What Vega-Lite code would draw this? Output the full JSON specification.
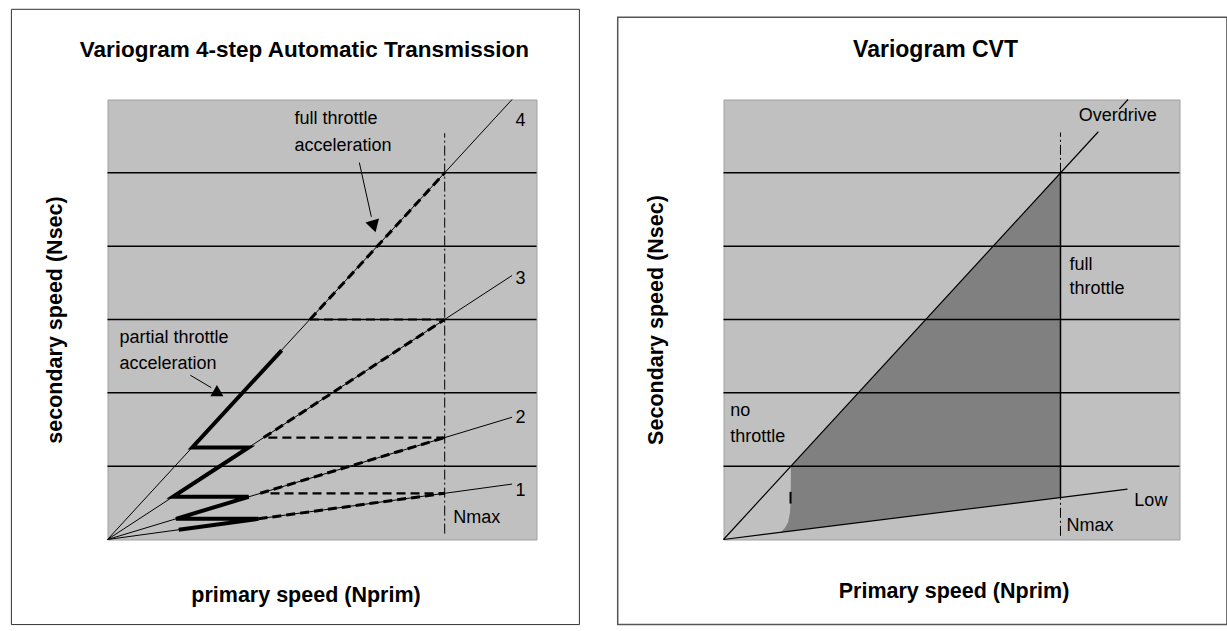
{
  "$schema": "https://vega.github.io/schema/vega-lite/v6.json",
  "padding": {"left": 9.5, "top": 7.5, "right": 0, "bottom": 0},
  "background": "white",
  "bounds": "flush",
  "spacing": 187,
  "config": {
    "view": {"stroke": null},
    "font": "Liberation Sans",
    "axis": {"titleFont": "Liberation Sans", "titleColor": "#000", "titleFontWeight": "bold", "titleFontSize": 21.5, "labels": false, "ticks": false, "domain": false, "grid": false}
  },
  "datasets": {
    "grid": [
      {"x": 0, "x2": 100, "y": 1, "y2": 1},
      {"x": 0, "x2": 100, "y": 2, "y2": 2},
      {"x": 0, "x2": 100, "y": 3, "y2": 3},
      {"x": 0, "x2": 100, "y": 4, "y2": 4},
      {"x": 0, "x2": 100, "y": 5, "y2": 5}
    ],
    "L_box": [{"x": -22.4, "x2": 110.0, "y": -1.16, "y2": 7.23}],
    "L_title": [{"x": 45.9, "y": 6.68, "text": "Variogram 4-step Automatic Transmission"}],
    "L_gears": [
      {"x": 0, "y": 0, "x2": 94.3, "y2": 6},
      {"x": 0, "y": 0, "x2": 94.3, "y2": 3.6},
      {"x": 0, "y": 0, "x2": 94.3, "y2": 1.667},
      {"x": 0, "y": 0, "x2": 94.3, "y2": 0.756}
    ],
    "L_full": [
      {"x": 47.2, "y": 3, "x2": 78.6, "y2": 5},
      {"x": 36.4, "y": 1.39, "x2": 78.6, "y2": 3},
      {"x": 35.6, "y": 0.63, "x2": 78.6, "y2": 1.39},
      {"x": 35.2, "y": 0.282, "x2": 78.6, "y2": 0.63}
    ],
    "L_shift": [
      {"x": 47.2, "y": 3, "x2": 78.6, "y2": 3},
      {"x": 37.5, "y": 1.39, "x2": 78.6, "y2": 1.39},
      {"x": 38, "y": 0.63, "x2": 78.6, "y2": 0.63}
    ],
    "L_zig": [
      {"o": 1, "x": 16.6, "y": 0.133},
      {"o": 2, "x": 35.2, "y": 0.282},
      {"o": 3, "x": 15.95, "y": 0.282},
      {"o": 4, "x": 32.9, "y": 0.582},
      {"o": 5, "x": 15.25, "y": 0.582},
      {"o": 6, "x": 32.9, "y": 1.256},
      {"o": 7, "x": 19.75, "y": 1.256},
      {"o": 8, "x": 40.6, "y": 2.58}
    ],
    "L_nmax": [{"x": 78.6, "y": 0.08, "x2": 78.6, "y2": 5.54}],
    "L_arrows": [
      {"x": 58.7, "y": 5.14, "x2": 61.5, "y2": 4.4},
      {"x": 19.3, "y": 2.24, "x2": 24.2, "y2": 2.07}
    ],
    "L_head_down": [{"x": 62.1, "y": 4.27}],
    "L_head_up": [{"x": 25.5, "y": 2.03}],
    "L_text": [
      {"x": 43.6, "y": 5.73, "text": "full throttle"},
      {"x": 43.6, "y": 5.37, "text": "acceleration"},
      {"x": 2.8, "y": 2.75, "text": "partial throttle"},
      {"x": 2.8, "y": 2.4, "text": "acceleration"},
      {"x": 95.1, "y": 5.71, "text": "4"},
      {"x": 95.1, "y": 3.55, "text": "3"},
      {"x": 95.1, "y": 1.66, "text": "2"},
      {"x": 95.1, "y": 0.655, "text": "1"},
      {"x": 80.6, "y": 0.29, "text": "Nmax"}
    ],
    "R_box": [{"x": -23.2, "x2": 110.4, "y": -1.16, "y2": 7.12}],
    "R_title": [{"x": 46.5, "y": 6.68, "text": "Variogram CVT"}],
    "R_area": [
      {"x": 12.5, "y": 0.097, "y2": 0.0969},
      {"x": 13.5, "y": 0.16, "y2": 0.1047},
      {"x": 14.2, "y": 0.24, "y2": 0.1101},
      {"x": 14.6, "y": 0.38, "y2": 0.1132},
      {"x": 14.75, "y": 0.6, "y2": 0.1144},
      {"x": 14.78, "y": 1, "y2": 0.1146},
      {"x": 73.9, "y": 5, "y2": 0.573}
    ],
    "R_lines": [
      {"x": 0, "y": 0, "x2": 82.2, "y2": 5.56},
      {"x": 86.8, "y": 5.87, "x2": 88.7, "y2": 6},
      {"x": 0, "y": 0, "x2": 88.6, "y2": 0.687}
    ],
    "R_nmax_solid": [{"x": 73.9, "y": 0.573, "x2": 73.9, "y2": 5}],
    "R_nmax_dd": [
      {"x": 73.9, "y": 5, "x2": 73.9, "y2": 5.55},
      {"x": 73.9, "y": 0.05, "x2": 73.9, "y2": 0.573}
    ],
    "R_tick": [{"x": 14.7, "y": 0.49, "x2": 14.7, "y2": 0.65}],
    "R_text": [
      {"x": 77.9, "y": 5.77, "text": "Overdrive"},
      {"x": 75.9, "y": 3.75, "text": "full"},
      {"x": 75.9, "y": 3.41, "text": "throttle"},
      {"x": 1.5, "y": 1.75, "text": "no"},
      {"x": 1.5, "y": 1.4, "text": "throttle"},
      {"x": 90.1, "y": 0.52, "text": "Low"},
      {"x": 75.2, "y": 0.18, "text": "Nmax"}
    ]
  },
  "hconcat": [
    {
      "width": 429,
      "height": 440,
      "view": {"fill": "#c0c0c0", "stroke": "#a0a0a0", "strokeWidth": 1},
      "encoding": {
        "x": {"field": "x", "type": "quantitative", "scale": {"domain": [0, 100], "nice": false, "zero": false},
              "axis": {"title": "primary speed (Nprim)", "titleX": 198, "titleY": 56, "titleAlign": "center", "titleBaseline": "middle"}},
        "y": {"field": "y", "type": "quantitative", "scale": {"domain": [0, 6], "nice": false, "zero": false},
              "axis": {"title": "secondary speed (Nsec)", "titleX": -52.4, "titleY": 220, "titleAngle": 270, "titleAlign": "center", "titleBaseline": "middle"}}
      },
      "layer": [
        {"data": {"name": "L_box"}, "mark": {"type": "rect", "filled": false, "stroke": "#333", "strokeWidth": 1}, "encoding": {"x2": {"field": "x2"}, "y2": {"field": "y2"}}},
        {"data": {"name": "L_title"}, "mark": {"type": "text", "align": "center", "baseline": "middle", "fontSize": 22.5, "fontWeight": "bold", "color": "#000"}, "encoding": {"text": {"field": "text"}}},
        {"data": {"name": "grid"}, "mark": {"type": "rule", "color": "#000", "strokeWidth": 1.5}, "encoding": {"x2": {"field": "x2"}, "y2": {"field": "y2"}}},
        {"data": {"name": "L_gears"}, "mark": {"type": "rule", "color": "#000", "strokeWidth": 1}, "encoding": {"x2": {"field": "x2"}, "y2": {"field": "y2"}}},
        {"data": {"name": "L_full"}, "mark": {"type": "rule", "color": "#000", "strokeWidth": 3, "strokeDash": [9, 5]}, "encoding": {"x2": {"field": "x2"}, "y2": {"field": "y2"}}},
        {"data": {"name": "L_shift"}, "mark": {"type": "rule", "color": "#000", "strokeWidth": 2.2, "strokeDash": [9, 5]}, "encoding": {"x2": {"field": "x2"}, "y2": {"field": "y2"}}},
        {"data": {"name": "L_zig"}, "mark": {"type": "line", "color": "#000", "strokeWidth": 4, "strokeJoin": "miter"}, "encoding": {"order": {"field": "o", "type": "quantitative"}}},
        {"data": {"name": "L_nmax"}, "mark": {"type": "rule", "color": "#000", "strokeWidth": 1, "strokeDash": [10, 3, 2, 3]}, "encoding": {"x2": {"field": "x2"}, "y2": {"field": "y2"}}},
        {"data": {"name": "L_arrows"}, "mark": {"type": "rule", "color": "#000", "strokeWidth": 1}, "encoding": {"x2": {"field": "x2"}, "y2": {"field": "y2"}}},
        {"data": {"name": "L_head_down"}, "mark": {"type": "point", "shape": "triangle-down", "filled": true, "color": "#000", "opacity": 1, "size": 200, "angle": 344}},
        {"data": {"name": "L_head_up"}, "mark": {"type": "point", "shape": "triangle-up", "filled": true, "color": "#000", "opacity": 1, "size": 170}},
        {"data": {"name": "L_text"}, "mark": {"type": "text", "align": "left", "baseline": "middle", "fontSize": 18, "color": "#000"}, "encoding": {"text": {"field": "text"}}}
      ]
    },
    {
      "width": 456,
      "height": 440,
      "view": {"fill": "#c0c0c0", "stroke": "#a0a0a0", "strokeWidth": 1},
      "encoding": {
        "x": {"field": "x", "type": "quantitative", "scale": {"domain": [0, 100], "nice": false, "zero": false},
              "axis": {"title": "Primary speed (Nprim)", "titleX": 230, "titleY": 52, "titleAlign": "center", "titleBaseline": "middle"}},
        "y": {"field": "y", "type": "quantitative", "scale": {"domain": [0, 6], "nice": false, "zero": false},
              "axis": {"title": "Secondary speed (Nsec)", "titleX": -67, "titleY": 220, "titleAngle": 270, "titleAlign": "center", "titleBaseline": "middle"}}
      },
      "layer": [
        {"data": {"name": "R_box"}, "mark": {"type": "rect", "filled": false, "stroke": "#555", "strokeWidth": 1.5}, "encoding": {"x2": {"field": "x2"}, "y2": {"field": "y2"}}},
        {"data": {"name": "R_title"}, "mark": {"type": "text", "align": "center", "baseline": "middle", "fontSize": 23, "fontWeight": "bold", "color": "#000"}, "encoding": {"text": {"field": "text"}}},
        {"data": {"name": "R_area"}, "mark": {"type": "area", "color": "#808080", "opacity": 1}, "encoding": {"y2": {"field": "y2"}}},
        {"data": {"name": "grid"}, "mark": {"type": "rule", "color": "#000", "strokeWidth": 1.5}, "encoding": {"x2": {"field": "x2"}, "y2": {"field": "y2"}}},
        {"data": {"name": "R_lines"}, "mark": {"type": "rule", "color": "#000", "strokeWidth": 1.2}, "encoding": {"x2": {"field": "x2"}, "y2": {"field": "y2"}}},
        {"data": {"name": "R_nmax_solid"}, "mark": {"type": "rule", "color": "#000", "strokeWidth": 1.5}, "encoding": {"x2": {"field": "x2"}, "y2": {"field": "y2"}}},
        {"data": {"name": "R_nmax_dd"}, "mark": {"type": "rule", "color": "#000", "strokeWidth": 1, "strokeDash": [10, 3, 2, 3]}, "encoding": {"x2": {"field": "x2"}, "y2": {"field": "y2"}}},
        {"data": {"name": "R_tick"}, "mark": {"type": "rule", "color": "#000", "strokeWidth": 2}, "encoding": {"x2": {"field": "x2"}, "y2": {"field": "y2"}}},
        {"data": {"name": "R_text"}, "mark": {"type": "text", "align": "left", "baseline": "middle", "fontSize": 18, "color": "#000"}, "encoding": {"text": {"field": "text"}}}
      ]
    }
  ]
}
